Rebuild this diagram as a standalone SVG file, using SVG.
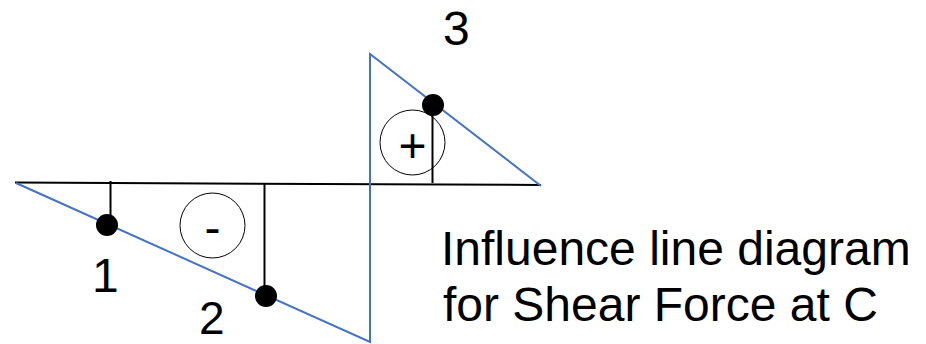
<svg xmlns="http://www.w3.org/2000/svg" width="926" height="344" viewBox="0 0 926 344">
<style>
.ax{stroke:#000;stroke-width:2;fill:none}
.il{stroke:#4472C4;stroke-width:2;fill:none;stroke-linejoin:miter}
.ord{stroke:#000;stroke-width:2}
.dot{fill:#000}
.sign{fill:none;stroke:#000;stroke-width:1}
text{font-family:"Liberation Sans",Arial,sans-serif;font-size:48px;fill:#000}
</style>
<rect width="926" height="344" fill="#fff"/>
<g id="connectors">
<line id="baseline" class="ax" x1="15" y1="182.5" x2="541" y2="185"/>
<polyline id="ild" class="il" points="16,183 370,342 370,54 541,186"/>
<line class="ord" x1="110.5" y1="181" x2="110.5" y2="225"/>
<line class="ord" x1="264.5" y1="184" x2="264.5" y2="296"/>
<line class="ord" x1="432.5" y1="105" x2="432.5" y2="183"/>
</g>
<g id="point1">
<circle class="dot" cx="107" cy="225" r="11"/>
<text x="92" y="292">1</text>
</g>
<g id="point2">
<circle class="dot" cx="266" cy="296" r="11"/>
<text x="199" y="334" style="font-size:46px">2</text>
</g>
<g id="point3">
<circle class="dot" cx="433" cy="105" r="11"/>
<text x="443" y="45">3</text>
</g>
<g id="negative">
<circle class="sign" cx="212.5" cy="225.5" r="32.5"/>
<text x="212.5" y="244" text-anchor="middle">-</text>
</g>
<g id="positive">
<circle class="sign" cx="412.5" cy="142.5" r="32.5"/>
<text x="412.5" y="162" text-anchor="middle">+</text>
</g>
<g id="caption">
<text x="441" y="265">Influence line diagram</text>
<text x="443" y="321">for Shear Force at C</text>
</g>
</svg>
